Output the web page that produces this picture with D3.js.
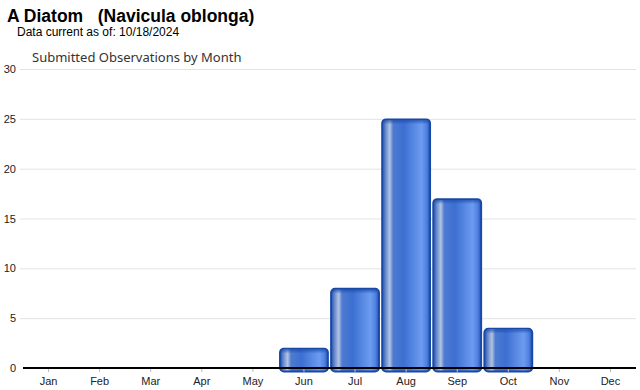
<!DOCTYPE html>
<html>
<head>
<script src="https://d3js.org/d3.v7.min.js"></script>
<style>
  body { margin: 0; background: #fff; }
  svg { display: block; }
</style>
</head>
<body>
<div id="chart"></div>
<script>
const months = ["Jan", "Feb", "Mar", "Apr", "May", "Jun", "Jul", "Aug", "Sep", "Oct", "Nov", "Dec"];
const counts = [0, 0, 0, 0, 0, 2, 8, 25, 17, 4, 0, 0];
const yTicks = [0, 5, 10, 15, 20, 25, 30];

const W = 640, H = 390;
const MARGIN = { top: 69, right: 4, bottom: 22, left: 23 };

const svg = d3.select("#chart").append("svg")
    .attr("width", W)
    .attr("height", H);

const defs = svg.append("defs");

// bar gradient (glossy horizontal)
const grad = defs.append("linearGradient")
    .attr("id", "barGrad")
    .attr("x1", "0%").attr("x2", "100%").attr("y1", "0%").attr("y2", "0%");
[
  [0, "#1d4fae"], [0.08, "#6f8fcc"], [0.16, "#b2c4e4"], [0.23, "#4e7bd0"],
  [0.45, "#3c6fd2"], [0.82, "#6c9cf0"], [0.93, "#4f80e0"], [1, "#1d4fae"]
].forEach(([o, c]) => grad.append("stop").attr("offset", o).attr("stop-color", c));

// darker bevel near top edge
const topGrad = defs.append("linearGradient")
    .attr("id", "topGrad")
    .attr("x1", "0%").attr("x2", "0%").attr("y1", "0%").attr("y2", "100%");
topGrad.append("stop").attr("offset", 0).attr("stop-color", "#1a4aa8").attr("stop-opacity", 0.7);
topGrad.append("stop").attr("offset", 1).attr("stop-color", "#1a4aa8").attr("stop-opacity", 0);

const x = d3.scaleBand()
    .domain(months)
    .range([MARGIN.left, W - MARGIN.right])
    .paddingInner(0.04)
    .paddingOuter(0.02);

const y = d3.scaleLinear()
    .domain([0, 30])
    .range([H - MARGIN.bottom, MARGIN.top]);

// titles
svg.append("text")
    .attr("x", 7).attr("y", 22)
    .style("font", "bold 17.5px 'Liberation Sans', Arial, sans-serif")
    .attr("fill", "#000")
    .attr("xml:space", "preserve")
    .text("A Diatom   (Navicula oblonga)");

svg.append("text")
    .attr("x", 17).attr("y", 36)
    .style("font", "12px 'Liberation Sans', Arial, sans-serif")
    .attr("fill", "#000")
    .text("Data current as of: 10/18/2024");

svg.append("text")
    .attr("x", 32).attr("y", 62)
    .style("font", "13px 'Noto Sans', sans-serif")
    .attr("fill", "#333")
    .text("Submitted Observations by Month");

// grid + y labels
svg.append("g").selectAll("line")
    .data(yTicks.filter(d => d > 0))
    .join("line")
    .attr("x1", MARGIN.left - 3).attr("x2", W - MARGIN.right)
    .attr("y1", d => y(d) + 0.5).attr("y2", d => y(d) + 0.5)
    .attr("stroke", "#e3e3e3");

svg.append("g").selectAll("text")
    .data(yTicks)
    .join("text")
    .attr("x", 16)
    .attr("y", d => y(d) + 4)
    .attr("text-anchor", "end")
    .style("font", "11px 'Liberation Sans', Arial, sans-serif")
    .attr("fill", "#222")
    .text(d => d);

// bars
const barData = months.map((m, i) => ({ m, v: counts[i] })).filter(d => d.v > 0);
const bars = svg.append("g");
bars.selectAll("rect.bar")
    .data(barData)
    .join("rect")
    .attr("class", "bar")
    .attr("x", d => x(d.m) + 0.5)
    .attr("y", d => y(d.v) + 0.5)
    .attr("width", x.bandwidth() - 1)
    .attr("height", d => y(0) - y(d.v) + 3)
    .attr("rx", 4)
    .attr("fill", "url(#barGrad)")
    .attr("stroke", "#1848a8")
    .attr("stroke-width", 1.8);

bars.selectAll("rect.bevel")
    .data(barData)
    .join("rect")
    .attr("class", "bevel")
    .attr("x", d => x(d.m) + 1.5)
    .attr("y", d => y(d.v) + 1.5)
    .attr("width", x.bandwidth() - 3)
    .attr("height", 4)
    .attr("rx", 3)
    .attr("fill", "url(#topGrad)");

// x axis
const xAxis = svg.append("g")
    .attr("transform", `translate(0,${y(0)})`)
    .call(d3.axisBottom(x).tickSize(4).tickPadding(5).tickSizeOuter(0));
xAxis.select(".domain").remove();
xAxis.selectAll(".tick line").attr("stroke", "#bbb");
xAxis.selectAll(".tick text")
    .style("font", "11px 'Liberation Sans', Arial, sans-serif")
    .attr("fill", "#222");

svg.append("line")
    .attr("x1", MARGIN.left).attr("x2", W - MARGIN.right)
    .attr("y1", y(0)).attr("y2", y(0))
    .attr("stroke", "#000")
    .attr("stroke-width", 2);
</script>
</body>
</html>
